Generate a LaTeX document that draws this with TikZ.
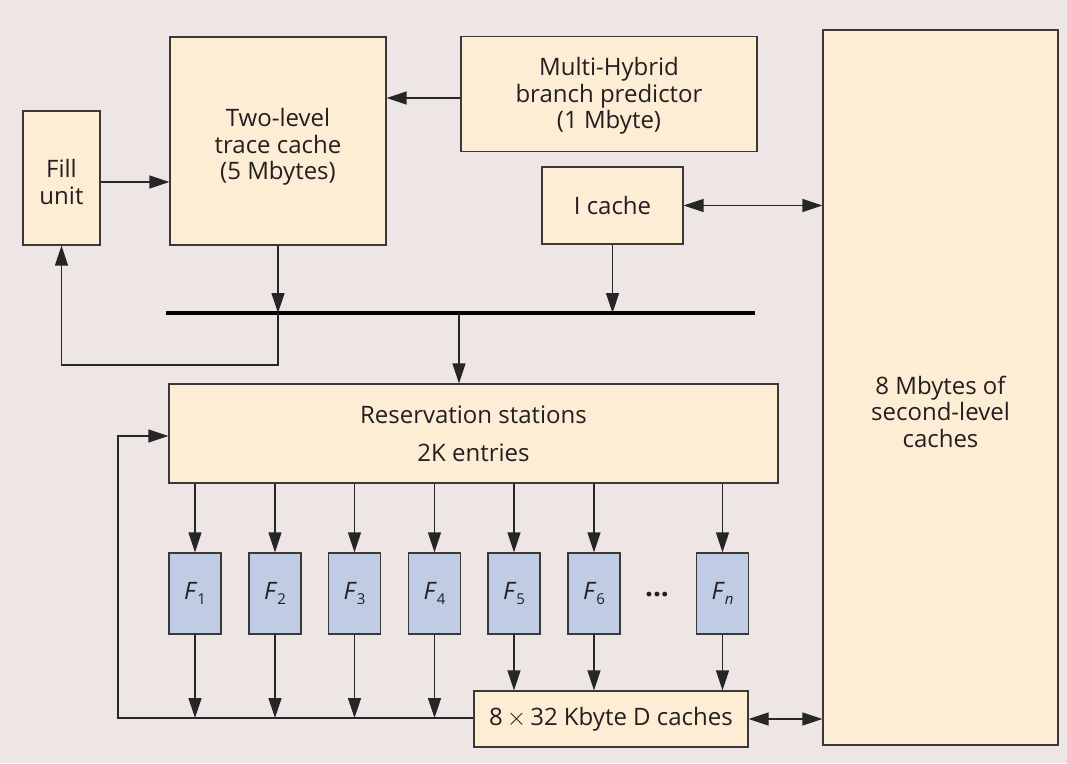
\documentclass[tikz,border=0pt]{standalone}
\usepackage{fontspec}
\setmainfont{Open Sans}
\usetikzlibrary{arrows.meta,calc}
\definecolor{bg}{RGB}{238,230,228}
\definecolor{boxfill}{RGB}{253,237,212}
\definecolor{fufill}{RGB}{191,204,227}
\definecolor{edge}{RGB}{60,56,56}
\definecolor{txt}{RGB}{35,31,32}
\tikzset{
  blk/.style={draw=edge, line width=1.2pt, fill=boxfill, align=center, inner sep=0pt, text=txt, font=\fontsize{24}{26.5}\selectfont},
  lbl/.style={align=center, inner sep=0pt, text=txt, font=\fontsize{24}{26.5}\selectfont},
  fu/.style={draw=edge, line width=1.2pt, fill=fufill, minimum width=52pt, minimum height=81pt, inner sep=0pt, text=txt, font=\fontsize{24}{26}\selectfont},
  conn/.style={draw=black!85, line width=1.3pt, -{Triangle[length=20pt,width=13pt]}},
  bconn/.style={draw=black!85, line width=1.3pt, {Triangle[length=20pt,width=13pt]}-{Triangle[length=20pt,width=13pt]}},
  busline/.style={draw=black, line width=4pt}
}
\newcommand{\fsub}[1]{\textit{F}\raisebox{-0.45ex}{\fontsize{15}{15}\selectfont #1}}
\begin{document}
\begin{tikzpicture}[x=1pt,y=-1pt]
\fill[bg] (0,0) rectangle (1067,763);
\useasboundingbox (0,0) rectangle (1067,763);

\node[blk, minimum width=77pt, minimum height=134pt] (fill) at (61.5,178) {};
\node[lbl] (fillt) at ([yshift=-4pt]fill.center) {Fill\\unit};
\node[blk, minimum width=216pt, minimum height=208pt] (trace) at (278,141) {};
\node[lbl] (tracet) at ([yshift=-6pt]trace.center) {Two-level\\trace cache\\(5 Mbytes)};
\node[blk, minimum width=296pt, minimum height=115pt] (mh) at (609,94) {};
\node[lbl] (mht) at ([yshift=-2pt]mh.center) {Multi-Hybrid\\branch predictor\\(1 Mbyte)};
\node[blk, minimum width=141pt, minimum height=77pt] (ic) at (612.5,205.5) {I cache};
\node[blk, minimum width=235pt, minimum height=715pt] (l2) at (940.5,387.5) {};
\node[lbl] (l2t) at ([yshift=-24pt]l2.center) {8 Mbytes of\\second-level\\caches};
\node[blk, minimum width=609pt, minimum height=99pt, font=\fontsize{24}{38}\selectfont] (rs) at (473.5,433.5) {Reservation stations\\2K entries};
\node[blk, minimum width=274pt, minimum height=56pt] (dc) at (611,719) {8\,$\times$\,32 Kbyte D caches};

\node[fu] (f1) at (195,593.5) {\fsub{1}};
\node[fu] (f2) at (275,593.5) {\fsub{2}};
\node[fu] (f3) at (354.5,593.5) {\fsub{3}};
\node[fu] (f4) at (434.5,593.5) {\fsub{4}};
\node[fu] (f5) at (514,593.5) {\fsub{5}};
\node[fu] (f6) at (594,593.5) {\fsub{6}};
\node[fu] (fn) at (722.5,593.5) {\fsub{\textit{n}}};
\node[text=txt, font=\fontsize{28}{28}\selectfont\bfseries] (dots) at (657,595) {...};

% bus
\coordinate (busl) at (166,313);
\coordinate (busr) at (755,313);
\draw[busline] (busl) -- (busr);

% top connectors
\draw[conn] ([yshift=-4pt]mh.west) -- ([yshift=-4pt]mh.west -| trace.east);
\draw[conn] ([yshift=-4pt]fill.east) -- ([yshift=-4pt]fill.east -| trace.west);
\draw[bconn] (ic.east) -- (ic.east -| l2.west);
\draw[conn] (trace.south) -- (trace.south |- busl);
\draw[conn] (ic.south) -- (ic.south |- busl);
\coordinate (busdrop) at (459,313);
\draw[conn] (busdrop) -- (busdrop |- rs.north);

% feedback to fill unit
\coordinate (fb1) at (278,365);
\coordinate (fb2) at (61.5,365);
\draw[conn] (trace.south |- busl) -- (fb1) -- (fb2) -- (fill.south);

% RS to functional units
\foreach \f in {f1,f2,f3,f4,f5,f6,fn}
  \draw[conn] (rs.south -| \f.north) -- (\f.north);

% functional units to result line / D caches
\coordinate (retl) at (118,718);
\foreach \f in {f1,f2,f3,f4}
  \draw[conn] (\f.south) -- (\f.south |- retl);
\foreach \f in {f5,f6,fn}
  \draw[conn] (\f.south) -- (\f.south |- dc.north);

% result loop back to RS
\coordinate (rsin) at ([yshift=-2.5pt]rs.west);
\draw[conn] (dc.west |- retl) -- (retl) -- (retl |- rsin) -- (rsin);

% D caches <-> L2
\draw[bconn] (dc.east) -- (dc.east -| l2.west);
\end{tikzpicture}
\end{document}
